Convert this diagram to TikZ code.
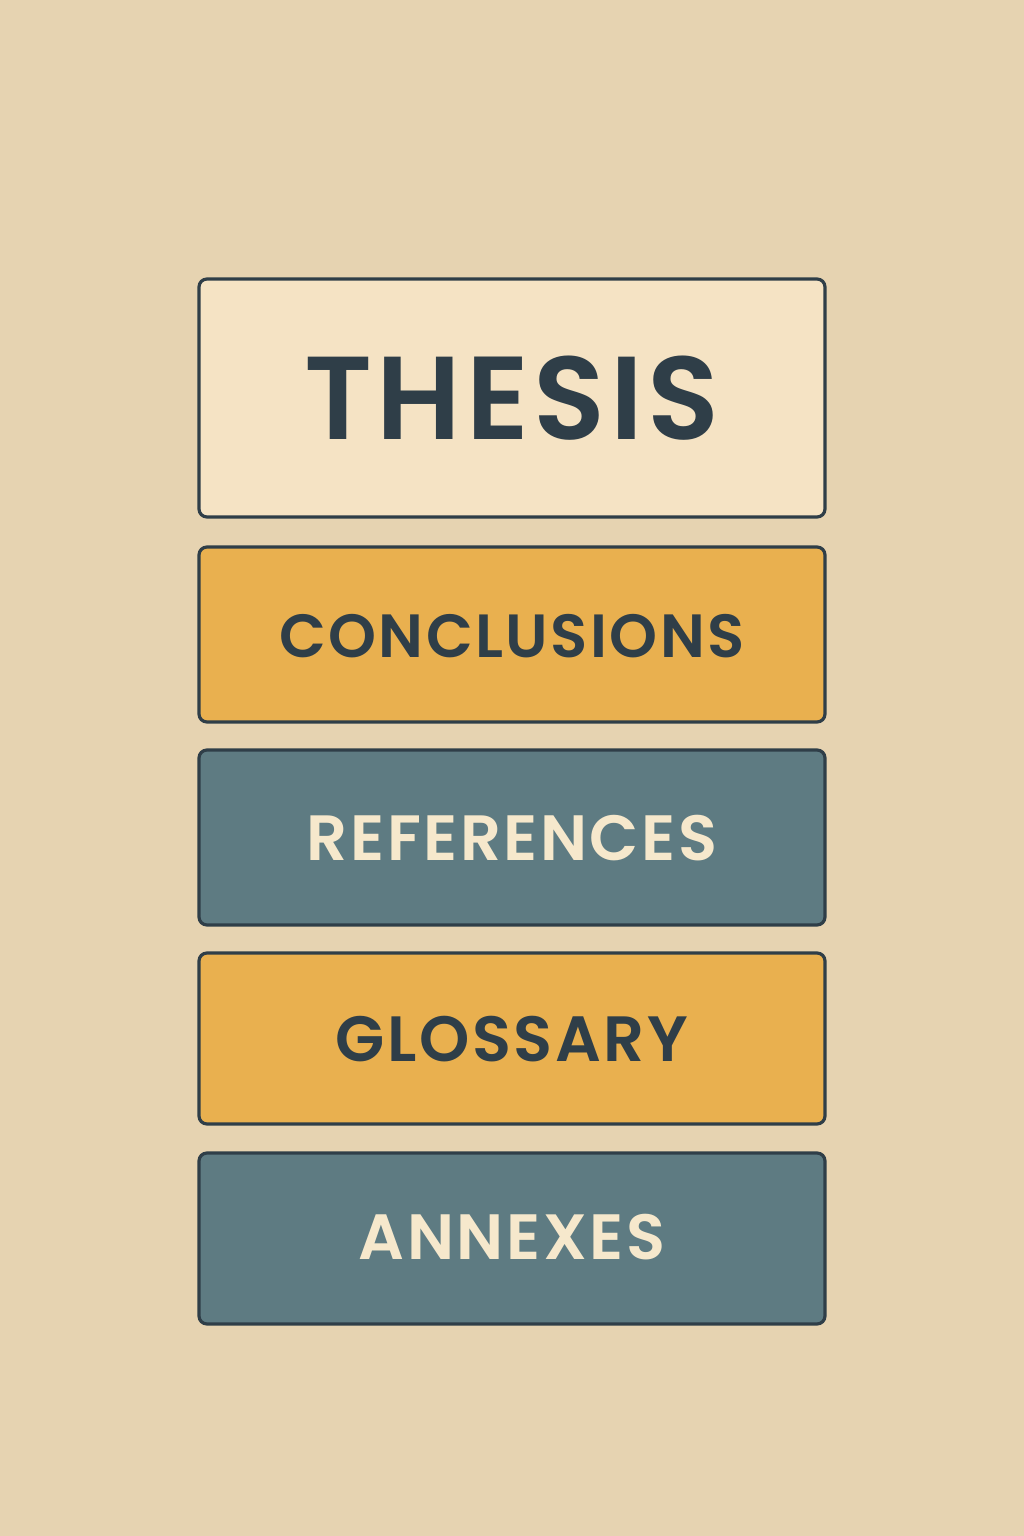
\documentclass[tikz,border=0pt]{standalone}
\usepackage{fontspec}
\setmainfont{Poppins}[UprightFont=* SemiBold, BoldFont=* Bold]
\newfontfamily\labfont{Poppins}[UprightFont=* SemiBold, LetterSpace=4]
\definecolor{bgc}{HTML}{E6D3B1}
\definecolor{creamc}{HTML}{F5E3C4}
\definecolor{orangec}{HTML}{E9B04F}
\definecolor{bluec}{HTML}{5E7B82}
\definecolor{darkc}{HTML}{2F3E48}
\definecolor{lightc}{HTML}{F6E8CC}
\begin{document}
\begin{tikzpicture}[x=1pt,y=-1pt,
  box/.style={draw=darkc, line width=3.2pt, rounded corners=8pt},
  lab/.style={font=\labfont\fontsize{64}{70}\selectfont, anchor=center, inner sep=0pt}]
\useasboundingbox (0,0) rectangle (1024,1536);
\fill[bgc] (0,0) rectangle (1024,1536);
\draw[box, fill=creamc] (199,279) rectangle (825,517);
\draw[box, fill=orangec] (199,547) rectangle (825,722);
\draw[box, fill=bluec] (199,750) rectangle (825,925);
\draw[box, fill=orangec] (199,953) rectangle (825,1124);
\draw[box, fill=bluec] (199,1153) rectangle (825,1324);
\node[lab, text=darkc, font=\labfont\fontsize{118}{120}\selectfont] (t1) at (512,398) {THESIS};
\node[lab, text=darkc, font=\labfont\fontsize{61}{70}\selectfont] (t2) at (512,636) {CONCLUSIONS};
\node[lab, text=lightc] (t3) at (512,838) {REFERENCES};
\node[lab, text=darkc] (t4) at (512,1039) {GLOSSARY};
\node[lab, text=lightc] (t5) at (512,1237) {ANNEXES};
\end{tikzpicture}
\end{document}
